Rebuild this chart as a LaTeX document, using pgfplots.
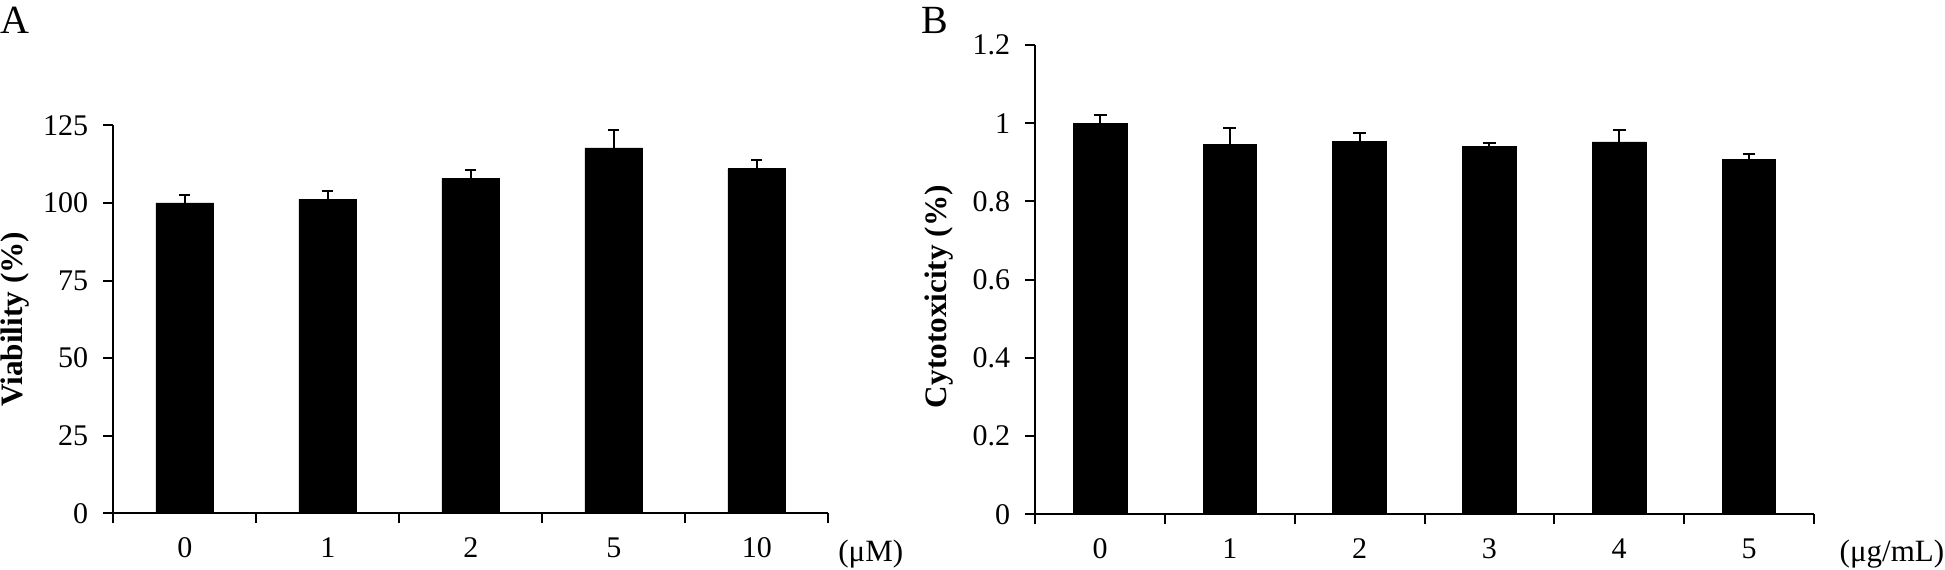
\documentclass[border=0pt]{standalone}
\usepackage{pgfplots}
\pgfplotsset{compat=1.18}
\usepackage{pgfplotstable}
\usepackage{fontspec}
\setmainfont{Liberation Serif}

\pgfplotstableread{
x y e
0 100.0 2.4
1 101.2 2.5
2 107.8 2.8
3 117.7 5.9
4 111.0 2.9
}\dataA

\pgfplotstableread{
x y e
0 1.000 0.021
1 0.945 0.044
2 0.954 0.020
3 0.940 0.010
4 0.952 0.031
5 0.907 0.014
}\dataB

\begin{document}
\begin{tikzpicture}
\pgfplotsset{mystyle/.style={
  scale only axis,
  ybar,
  axis x line*=bottom, axis y line*=left,
  axis line style={line width=1pt, black},
  tick style={line width=1pt, black},
  tick align=outside,
  major tick length=5pt,
  x tick label as interval,
  /pgf/number format/assume math mode=true,
  ticklabel style={font=\fontsize{15}{17}\selectfont},
  xticklabel style={yshift=-3.5pt},
  yticklabel style={xshift=-4pt},
  ylabel style={font=\fontsize{15.6}{18}\selectfont\bfseries, anchor=center},
  xlabel style={font=\fontsize{15.5}{18}\selectfont, anchor=base},
  ymin=0,
}}
\node[anchor=base west, inner sep=0, font=\fontsize{20}{23}\selectfont] at (0.3pt,267.85pt) {A};
\node[anchor=base west, inner sep=0, font=\fontsize{20}{23}\selectfont] at (460.3pt,267.85pt) {B};

\begin{axis}[mystyle,
  at={(56.65pt,27.85pt)}, anchor=south west,
  width=357.5pt, height=194pt,
  xmin=-0.5, xmax=4.5,
  xtick={-0.5,0.5,1.5,2.5,3.5,4.5},
  xticklabels={0,1,2,5,10},
  ymax=125, ytick={0,25,50,75,100,125},
  yticklabels={0,25,50,75,100,125},
  bar width=0.403,
  ylabel={Viability (\%)},
  ylabel style={at={(axis description cs:-0.1375,0.5)}},
  xlabel={(μM)},
  xlabel style={at={(axis description cs:1.0594,-0.123)}},
]
\addplot[fill=black, draw=black,
  error bars/.cd, y dir=plus, y explicit,
  error bar style={line width=1pt, black},
  error mark options={rotate=90, line width=1pt, mark size=2.8pt, black}]
  table[x=x, y=y, y error=e] {\dataA};
\end{axis}

\begin{axis}[mystyle,
  at={(517.6pt,27.35pt)}, anchor=south west,
  width=389.35pt, height=234.65pt,
  xmin=-0.5, xmax=5.5,
  xtick={-0.5,0.5,1.5,2.5,3.5,4.5,5.5},
  xticklabels={0,1,2,3,4,5},
  ymax=1.2, ytick={0,0.2,0.4,0.6,0.8,1,1.2},
  yticklabels={0,0.2,0.4,0.6,0.8,1,1.2},
  bar width=0.414,
  ylabel={Cytotoxicity (\%)},
  ylabel style={at={(axis description cs:-0.1233,0.4637)}},
  xlabel={(μg/mL)},
  xlabel style={at={(axis description cs:1.1002,-0.1)}},
]
\addplot[fill=black, draw=black,
  error bars/.cd, y dir=plus, y explicit,
  error bar style={line width=1pt, black},
  error mark options={rotate=90, line width=1pt, mark size=3.2pt, black}]
  table[x=x, y=y, y error=e] {\dataB};
\end{axis}
\pgfresetboundingbox
\path[use as bounding box] (0pt,0pt) rectangle (972.5pt,284.5pt);
\end{tikzpicture}
\end{document}
